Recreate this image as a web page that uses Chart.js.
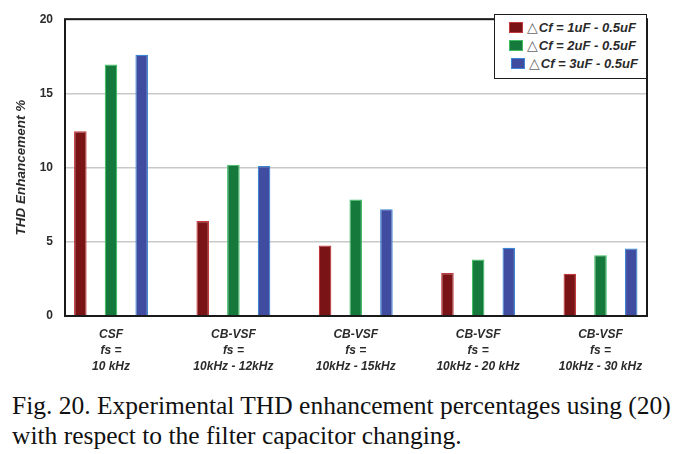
<!DOCTYPE html>
<html>
<head>
<meta charset="utf-8">
<script src="https://cdn.jsdelivr.net/npm/chart.js@4/dist/chart.umd.min.js"></script>
<style>
  html, body { margin: 0; padding: 0; background: #fff; }
  body { width: 684px; height: 454px; position: relative; overflow: hidden; }
  #wrap { position: absolute; left: 0; top: 0; width: 684px; height: 385px; }
  #legend { position: absolute; left: 494px; top: 14px; width: 153px; height: 65px;
            border: 1.5px solid #1c1c1c; background: #fff; box-sizing: border-box;
            padding: 3px 0 0 14px; }
  .row { height: 18px; display: flex; align-items: center;
         font: italic bold 13px "Liberation Sans", Arial, sans-serif; color: #2a2a2a; white-space: nowrap; }
  .sw { width: 12px; height: 9px; margin-right: 4px; border: 1px solid; }
  .tri { font: normal 14px "DejaVu Sans", sans-serif; color: #666; margin-right: 1px; }
  #caption { position: absolute; left: 12px; top: 391px; width: 672px;
             font: 25.5px "Liberation Serif", "Times New Roman", serif; line-height: 30px; color: #111; white-space: nowrap; }
</style>
</head>
<body>
<div id="wrap"><canvas id="c" width="684" height="385"></canvas></div>
<div id="legend"></div>
<div id="caption">Fig. 20. Experimental THD enhancement percentages using (20)<br>with respect to the filter capacitor changing.</div>
<script>
// ---- data ----
const categories = [
  ["CSF", "fs =", "10 kHz"],
  ["CB-VSF", "fs =", "10kHz - 12kHz"],
  ["CB-VSF", "fs =", "10kHz - 15kHz"],
  ["CB-VSF", "fs =", "10kHz - 20 kHz"],
  ["CB-VSF", "fs =", "10kHz - 30 kHz"]
];
const seriesLabels = ["Cf = 1uF - 0.5uF", "Cf = 2uF - 0.5uF", "Cf = 3uF - 0.5uF"];
const dcf1 = [12.45, 6.4, 4.75, 2.9, 2.85];
const dcf2 = [16.95, 10.2, 7.85, 3.8, 4.1];
const dcf3 = [17.6, 10.1, 7.2, 4.6, 4.55];
const yTicks = [0, 5, 10, 15, 20];
const yTitle = "THD Enhancement %";

const fills = ["#7a1315", "#15793b", "#3f4c9f"];
const edges = ["#c23a3d", "#3fbe63", "#3b86d4"];

function toPoints(arr) { return arr.map((v, i) => ({ x: i, y: v })); }

const boxPlugin = {
  id: 'box',
  afterDatasetsDraw(chart) {
    const a = chart.chartArea, ctx = chart.ctx;
    ctx.save();
    ctx.strokeStyle = '#1a1a1a';
    ctx.lineWidth = 2;
    ctx.strokeRect(a.left, a.top, a.right - a.left, a.bottom - a.top);
    ctx.restore();
  }
};

const legendPlugin = {
  id: 'htmlLegend',
  afterUpdate(chart) {
    const el = document.getElementById('legend');
    el.innerHTML = '';
    chart.data.datasets.forEach((ds, i) => {
      const row = document.createElement('div');
      row.className = 'row';
      if (i === 2) row.style.paddingLeft = '2px';
      const sw = document.createElement('span');
      sw.className = 'sw';
      sw.style.background = ds.backgroundColor;
      sw.style.borderColor = ds.borderColor;
      const tri = document.createElement('span');
      tri.className = 'tri';
      tri.textContent = '\u25B3';
      const txt = document.createElement('span');
      txt.textContent = ds.label;
      row.appendChild(sw); row.appendChild(tri); row.appendChild(txt);
      el.appendChild(row);
    });
  }
};

const tickFont = { family: '"Liberation Sans", Arial, sans-serif', weight: 'bold', size: 12 };

new Chart(document.getElementById('c'), {
  type: 'bar',
  data: {
    datasets: [dcf1, dcf2, dcf3].map((arr, i) => ({
      label: seriesLabels[i],
      data: toPoints(arr),
      backgroundColor: fills[i],
      borderColor: edges[i],
      borderWidth: 1.2,
      categoryPercentage: 0.752,
      barPercentage: 0.41
    }))
  },
  options: {
    responsive: false,
    animation: false,
    events: [],
    layout: { padding: { top: 16, right: 37, left: 0, bottom: 0 } },
    plugins: { legend: { display: false }, tooltip: { enabled: false } },
    scales: {
      x: {
        type: 'linear',
        offset: false,
        bounds: 'ticks',
        min: -0.376,
        max: 4.38,
        grid: { display: false, drawTicks: false, offset: false },
        border: { display: false },
        afterBuildTicks(scale) { scale.ticks = categories.map((_, i) => ({ value: i })); },
        afterFit(scale) { scale.height = 69; },
        ticks: {
          autoSkip: false,
          maxRotation: 0,
          minRotation: 0,
          padding: 11,
          color: '#2b2b2b',
          font: Object.assign({}, tickFont, { style: 'italic', lineHeight: '16px' }),
          callback: (v) => categories[v] || ''
        }
      },
      y: {
        min: 0,
        max: 20,
        afterBuildTicks(scale) { scale.ticks = yTicks.map(v => ({ value: v })); },
        afterFit(scale) { scale.width = 65; },
        grid: { color: '#c9c9c9', lineWidth: 1.5, drawTicks: false },
        border: { display: false },
        ticks: { padding: 12, color: '#2b2b2b', font: tickFont },
        title: {
          display: true,
          text: yTitle,
          color: '#2b2b2b',
          font: { family: '"Liberation Sans", Arial, sans-serif', weight: 'bold', style: 'italic', size: 13.5 },
          padding: { top: 13, bottom: 0 }
        }
      }
    }
  },
  plugins: [boxPlugin, legendPlugin]
});
</script>
</body>
</html>
